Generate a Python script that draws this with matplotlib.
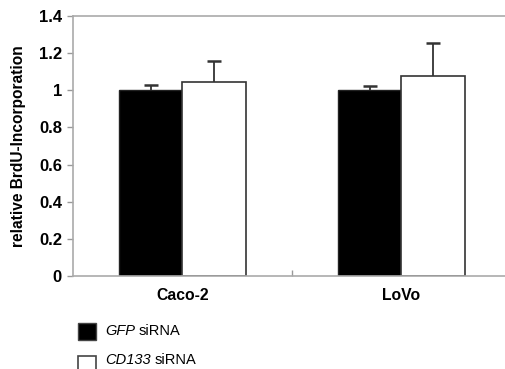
import matplotlib
matplotlib.use("Agg")
import matplotlib.pyplot as plt
import numpy as np
from matplotlib.patches import Rectangle

categories = ["Caco-2", "LoVo"]
gfp_values = [1.0, 1.0]
gfp_err = [0.03, 0.025]
cd133_values = [1.043, 1.077]
cd133_err = [0.117, 0.177]
yticks = [0, 0.2, 0.4, 0.6, 0.8, 1, 1.2, 1.4]
ytick_labels = ["0", "0.2", "0.4", "0.6", "0.8", "1", "1.2", "1.4"]
legend_genes = ["GFP", "CD133"]

plt.rcParams['font.family'] = ['Liberation Sans', 'DejaVu Sans']

fig = plt.figure(figsize=(5.06, 3.69), dpi=100)
ax = fig.add_axes([73/506, 93/369, 438/506, 260/369])

x = np.arange(len(categories))
w = 0.288
gx = x - w/2
cx = x + w/2
ax.bar(gx, gfp_values, w, color='black', edgecolor='#222222', linewidth=1.0, zorder=2)
ax.bar(cx, cd133_values, w, color='white', edgecolor='#333333', linewidth=1.2, zorder=2)

for xs, vals, errs in [(gx, gfp_values, gfp_err), (cx, cd133_values, cd133_err)]:
    vals = np.array(vals)
    errs = np.array(errs)
    ax.vlines(xs, vals, vals + errs, colors='#333333', linewidth=1.3, zorder=3)
    ax.plot(xs, vals + errs, linestyle='none', marker='_', markersize=10,
            markeredgewidth=1.8, color='#333333', zorder=3)

ax.set_xlim(-0.5, 1.5)
ax.set_ylim(0, 1.4)
ax.set_yticks(yticks)
ax.set_yticklabels(ytick_labels, fontsize=12, fontweight='bold')
ax.set_xticks([0.5])
ax.set_xticklabels([""])
for xi, c in zip(x, categories):
    ax.text(xi, -0.065, c, ha='center', va='top', fontsize=11.3, fontweight='bold')
ax.tick_params(axis='y', length=4, color='#999999', width=1, pad=4)
ax.tick_params(axis='x', length=4, color='#999999', width=1, direction='in')
for s in ['left', 'bottom', 'top']:
    ax.spines[s].set_color('#aaaaaa')
    ax.spines[s].set_linewidth(1.2)
ax.spines['right'].set_visible(False)
ax.set_ylabel("relative BrdU-Incorporation", fontsize=11.2, fontweight='bold', va='center')
ax.yaxis.set_label_coords(-(73 - 18.5) / 438, 0.5)

# legend
fig.patches.append(Rectangle((78/506, 1 - 340/369), 18/506, 17/369, transform=fig.transFigure,
                             facecolor='black', edgecolor='#444444', linewidth=1))
fig.patches.append(Rectangle((78/506, 1 - 369/369 - 0.01), 18/506, 17/369, transform=fig.transFigure,
                             facecolor='white', edgecolor='#444444', linewidth=1.2))
renderer = fig.canvas.get_renderer()
for gene, ypix in zip(legend_genes, [331, 360]):
    t = fig.text(105/506, 1 - ypix/369, gene, fontsize=10.5, va='center', ha='left', style='italic')
    bb = t.get_window_extent(renderer=renderer)
    fig.text((bb.x1 + 4) / 506, 1 - ypix/369, "siRNA", fontsize=10.5, va='center', ha='left')

fig.savefig("out.png", dpi=100)
